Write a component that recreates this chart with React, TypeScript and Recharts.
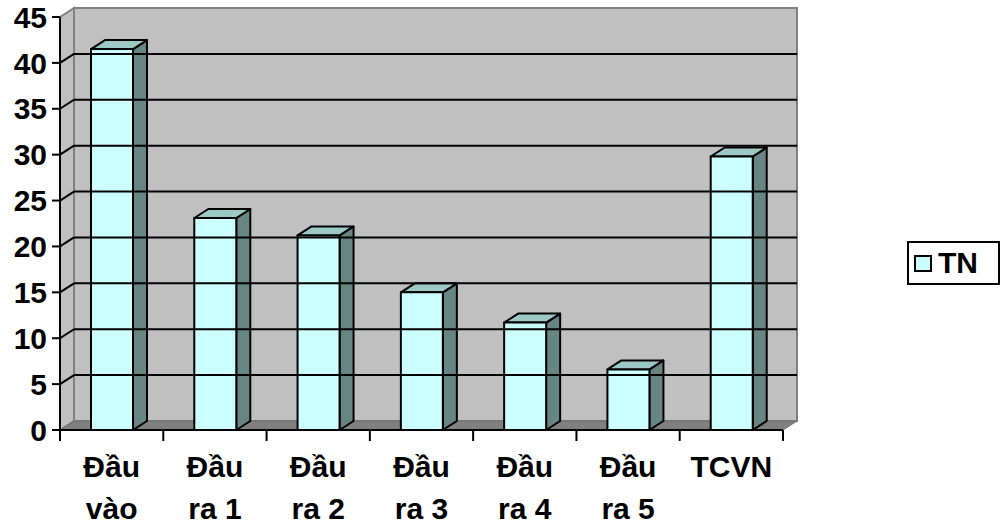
import { Bar, BarChart, ReferenceArea, ReferenceLine, XAxis, YAxis } from "recharts"

const categories = ["Đầu vào", "Đầu ra 1", "Đầu ra 2", "Đầu ra 3", "Đầu ra 4", "Đầu ra 5", "TCVN"]
const tnValues = [41.5, 23.1, 21.2, 15, 11.7, 6.6, 29.8]
const yTicks = [0, 5, 10, 15, 20, 25, 30, 35, 40, 45]
const gridValues = [5, 10, 15, 20, 25, 30, 35, 40]
const seriesName = "TN"

const data = categories.map((name, i) => ({ name, TN: tnValues[i] }))

const DX = 14
const DY = -9
const FONT = "'Liberation Sans', Arial, sans-serif"

function Walls(props: any) {
  const { x, y, width: w, height: h } = props
  return (
    <g>
      <rect x={x + DX} y={y + DY} width={w} height={h} fill="#c0c0c0" stroke="#808080" strokeWidth={2} />
      <polygon
        points={`${x},${y} ${x + DX},${y + DY} ${x + DX},${y + h + DY} ${x},${y + h}`}
        fill="#c0c0c0"
        stroke="#808080"
        strokeWidth={2}
      />
      <polygon
        points={`${x},${y + h} ${x + w},${y + h} ${x + w + DX},${y + h + DY} ${x + DX},${y + h + DY}`}
        fill="#808080"
        stroke="#6e6e6e"
        strokeWidth={1}
      />
    </g>
  )
}

function GridLine(props: any) {
  const { x1, y1, x2, y2 } = props
  return (
    <g>
      <line x1={x1} y1={y1} x2={x1 + DX} y2={y1 + DY} stroke="#000" strokeWidth={2} />
      <line x1={x1 + DX} y1={y1 + DY} x2={x2 + DX} y2={y2 + DY} stroke="#000" strokeWidth={2} />
    </g>
  )
}

function Bar3D(props: any) {
  const { x, y, width: w, height: h } = props
  if (!h) return null
  return (
    <g stroke="#000" strokeWidth={2} strokeLinejoin="round">
      <polygon
        points={`${x + w},${y} ${x + w + DX},${y + DY} ${x + w + DX},${y + h + DY} ${x + w},${y + h}`}
        fill="#678583"
      />
      <polygon
        points={`${x},${y} ${x + DX},${y + DY} ${x + w + DX},${y + DY} ${x + w},${y}`}
        fill="#9cc8c6"
      />
      <rect x={x} y={y} width={w} height={h} fill="#ccffff" />
    </g>
  )
}

function CategoryTick(props: any) {
  const { x, y, payload, index } = props
  const half = payload.offset || 0
  const label: string = payload.value
  const sp = label.indexOf(" ")
  const lines = sp > 0 ? [label.slice(0, sp), label.slice(sp + 1)] : [label]
  return (
    <g>
      <line x1={x - half} y1={y - 10} x2={x - half} y2={y + 1} stroke="#000" strokeWidth={2} />
      {index === categories.length - 1 && (
        <line x1={x + half} y1={y - 10} x2={x + half} y2={y + 1} stroke="#000" strokeWidth={2} />
      )}
      <text textAnchor="middle" fontFamily={FONT} fontWeight="bold" fontSize={30} fill="#000">
        {lines.map((t, i) => (
          <tspan key={i} x={x} y={y + 37 + i * 42}>
            {t}
          </tspan>
        ))}
      </text>
    </g>
  )
}

function LegendBox() {
  return (
    <div
      style={{
        position: "absolute",
        left: 907,
        top: 241,
        width: 89,
        height: 40,
        border: "2px solid #000",
        background: "#fff",
        display: "flex",
        alignItems: "center",
        fontFamily: FONT,
        fontWeight: "bold",
        fontSize: 30,
        color: "#000",
      }}
    >
      <span
        style={{
          display: "inline-block",
          width: 14,
          height: 13,
          marginLeft: 5,
          marginRight: 6,
          background: "#ccffff",
          border: "2px solid #000",
        }}
      />
      <span style={{ lineHeight: "40px" }}>{seriesName}</span>
    </div>
  )
}

export default function App() {
  return (
    <div style={{ position: "absolute", left: 0, top: 0, width: 1007, height: 526, background: "#fff" }}>
      <BarChart width={1007} height={526} data={data} margin={{ top: 17, right: 224, bottom: 0, left: 0 }}>
        <XAxis
          dataKey="name"
          height={96}
          tickLine={false}
          tickSize={10}
          tickMargin={0}
          axisLine={{ stroke: "#000", strokeWidth: 2 }}
          tick={<CategoryTick />}
          interval={0}
        />
        <YAxis
          width={60}
          domain={[0, 45]}
          ticks={yTicks}
          interval={0}
          tickSize={8}
          tickMargin={5}
          axisLine={{ stroke: "#000", strokeWidth: 2 }}
          tickLine={{ stroke: "#000", strokeWidth: 2 }}
          tick={{ fill: "#000", fontFamily: FONT, fontWeight: "bold", fontSize: 30 }}
        />
        <ReferenceArea y1={0} y2={45} shape={<Walls />} ifOverflow="visible" fillOpacity={1} />
        {gridValues.map((v) => (
          <ReferenceLine key={v} y={v} shape={<GridLine />} ifOverflow="visible" />
        ))}
        <Bar dataKey="TN" name={seriesName} barSize={42} shape={<Bar3D />} isAnimationActive={false} />
      </BarChart>
      <LegendBox />
    </div>
  )
}
